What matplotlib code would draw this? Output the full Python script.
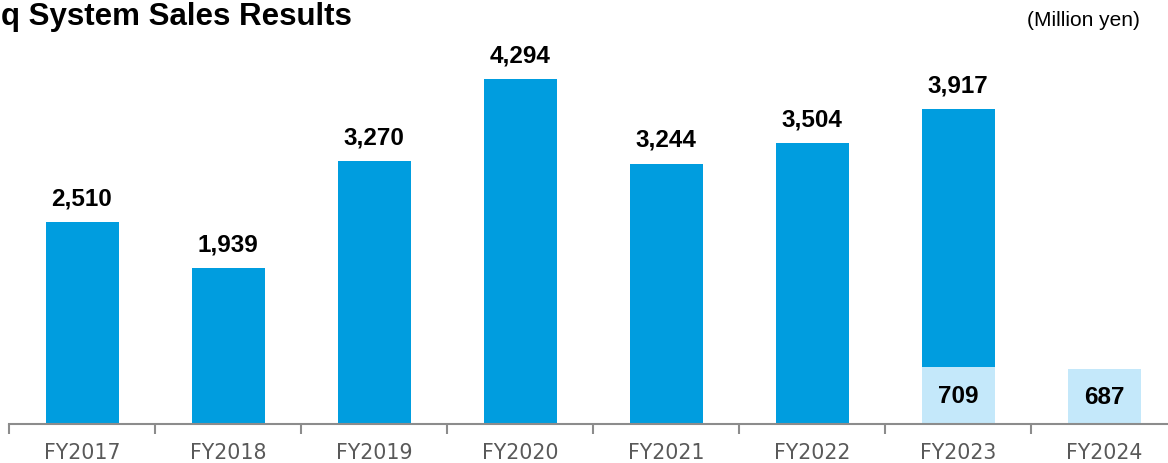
import matplotlib
matplotlib.use("Agg")
import matplotlib.pyplot as plt
import numpy as np

# data (million yen)
years = ["FY2017", "FY2018", "FY2019", "FY2020", "FY2021", "FY2022", "FY2023", "FY2024"]
totals = [2510, 1939, 3270, 4294, 3244, 3504, 3917, None]
light_part = [0, 0, 0, 0, 0, 0, 709, 687]

DARK = "#009DDF"
LIGHT = "#C4E8FA"
GRAY = "#8C8C8C"

plt.rcParams["font.family"] = ["Liberation Sans", "DejaVu Sans"]

W, H = 1168, 464
fig = plt.figure(figsize=(W / 100, H / 100), dpi=100)
step = 146
ax = fig.add_axes([9 / W, 39 / H, 8 * step / W, 401.5 / H])
ax.set_xlim(-0.5, 7.5)
ax.set_ylim(0, 5000)

x = np.arange(len(years))
for i in x:
    lp = light_part[i]
    tot = totals[i]
    if lp:
        ax.bar(i, lp, width=0.5, color=LIGHT, zorder=2)
        ax.text(i, lp / 2, f"{lp:,}", ha="center", va="center",
                fontsize=17.5, fontweight="bold", color="black")
    if tot is not None:
        ax.bar(i, tot - lp, bottom=lp, width=0.5, color=DARK, zorder=2)
        ax.text(i, tot + 300, f"{tot:,}", ha="center", va="center",
                fontsize=17.5, fontweight="bold", color="black")

for s in ["top", "right", "left"]:
    ax.spines[s].set_visible(False)
ax.spines["bottom"].set_color(GRAY)
ax.spines["bottom"].set_linewidth(1.5)
ax.set_yticks([])

# ticks at category boundaries, labels centered under bars
ax.set_xticks(np.arange(-0.5, 8.0, 1.0))
ax.set_xticklabels([])
ax.tick_params(axis="x", which="major", length=7, width=1.5, color=GRAY, direction="out")
ax.set_xticks(x, minor=True)
ax.set_xticklabels(years, minor=True, fontsize=14.8, color="#595959",
                   family="DejaVu Sans")
ax.tick_params(axis="x", which="minor", length=0, pad=13)

fig.text(1 / W, 1 - 2 / H, "q System Sales Results", fontsize=22.5,
         fontweight="bold", ha="left", va="top")
fig.text(1140 / W, 1 - 20 / H, "(Million yen)", fontsize=15,
         ha="right", va="center")

fig.savefig("out.png", dpi=100)
